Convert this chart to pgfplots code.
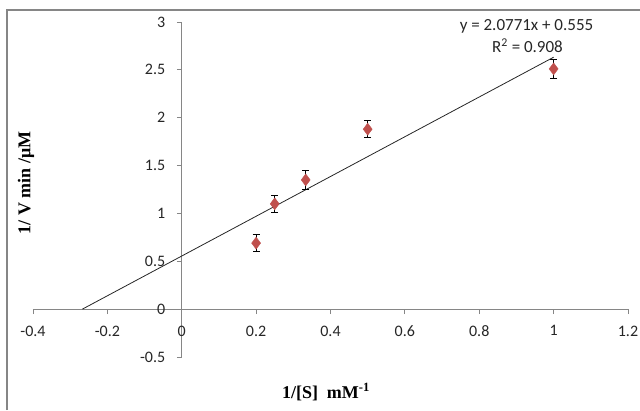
\documentclass[border=0pt]{standalone}
\usepackage{pgfplots}
\pgfplotsset{compat=1.18}
\usepackage{fontspec}
\setmainfont{Carlito}
\newfontfamily\labelfont{Liberation Serif}
\definecolor{ptred}{HTML}{C0504D}
\definecolor{axgray}{HTML}{868686}

\begin{document}
\begin{tikzpicture}
\useasboundingbox (-33pt,-53pt) rectangle (607pt,357pt);
% outer chart frame (only top and left are visible in the reference)
\draw[axgray, line width=1.2pt] (-26pt,-53pt) -- (-26pt,347pt) -- (607pt,347pt);
\begin{axis}[
  scale only axis, width=595pt, height=335pt,
  xmin=-0.4, xmax=1.2, ymin=-0.5, ymax=3,
  axis lines=middle,
  axis line style={-, draw=axgray, line width=0.8pt},
  xtick={-0.4,-0.2,0,0.2,0.4,0.6,0.8,1,1.2},
  xticklabels={-0.4,-0.2,0,0.2,0.4,0.6,0.8,1,1.2},
  ytick={-0.5,0,0.5,1,1.5,2,2.5,3},
  yticklabels={-0.5,0,0.5,1,1.5,2,2.5,3},
  hide obscured x ticks=false, hide obscured y ticks=false,
  tick align=outside,
  major tick length=5pt,
  tick style={axgray, line width=0.8pt},
  ticklabel style={font=\fontsize{16}{16}\selectfont, black!85},
  xticklabel style={yshift=-8pt},
  yticklabel style={xshift=-8pt},
  clip=false,
]
% linear trendline y = 2.0771x + 0.555
\addplot[black!85, line width=0.8pt] coordinates {(-0.2672,0) (1.0,2.6321)};
\addplot[only marks, mark=diamond*, mark size=6pt, color=ptred,
  error bars/.cd, y dir=both, y explicit,
  error bar style={black, line width=0.8pt},
  error mark options={black, rotate=90, mark size=3.5pt, line width=0.8pt}]
  coordinates {
  (0.2,0.69) +- (0,0.09)
  (0.25,1.10) +- (0,0.085)
  (0.3333,1.35) +- (0,0.10)
  (0.5,1.88) +- (0,0.09)
  (1.0,2.51) +- (0,0.10)
};
\end{axis}
\node[font=\fontsize{17}{17}\selectfont, black!85] at (493.5pt,331pt) {y = 2.0771x + 0.555};
\node[font=\fontsize{17}{17}\selectfont, black!85] at (494.5pt,311pt) {R\textsuperscript{2} = 0.908};
\node[font=\labelfont\bfseries\fontsize{18}{18}\selectfont] at (293pt,-35pt) {1/[S]\ \ mM\textsuperscript{-1}};
\node[font=\labelfont\bfseries\fontsize{18}{18}\selectfont, rotate=90] at (-7pt,174pt) {1/ V min /μM};
\end{tikzpicture}
\end{document}
